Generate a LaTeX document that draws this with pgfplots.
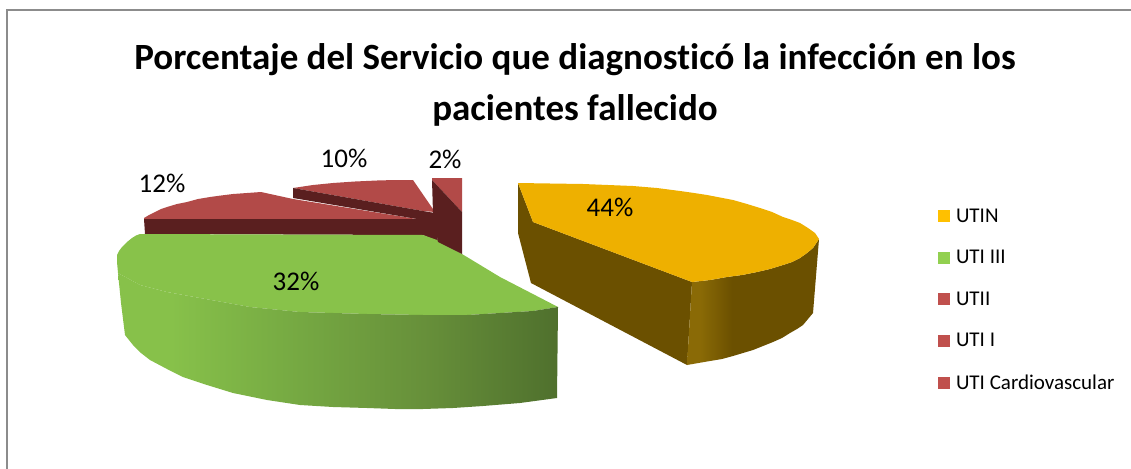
\documentclass[border=0pt]{standalone}
\usepackage{pgfplots}
\pgfplotsset{compat=1.18}
\usepackage{fontspec}
\setmainfont[Ligatures=NoCommon]{Carlito}
\definecolor{yTop}{HTML}{EEB000}
\definecolor{yDark}{HTML}{6B5000}
\definecolor{yMid}{HTML}{8A6A06}
\definecolor{gTop}{HTML}{88C24A}
\definecolor{gA}{HTML}{87C14A}
\definecolor{gB}{HTML}{75A842}
\definecolor{gC}{HTML}{67903A}
\definecolor{gD}{HTML}{4F702D}
\definecolor{rTop}{HTML}{B24A48}
\definecolor{rDark}{HTML}{5A1F1F}
\definecolor{frameC}{HTML}{8C8C8C}
\pgfdeclarehorizontalshading{greenwall}{100bp}{color(0bp)=(gA); color(25bp)=(gA); color(31bp)=(gA); color(45.7bp)=(gB); color(59.7bp)=(gC); color(75bp)=(gD); color(100bp)=(gD)}
\pgfdeclarehorizontalshading{yellowwall}{100bp}{color(0bp)=(yMid); color(25bp)=(yMid); color(30bp)=(yMid); color(42bp)=(yDark); color(100bp)=(yDark)}
\begin{document}
\begin{tikzpicture}
\useasboundingbox (0,0) rectangle (1131pt,468pt);
\begin{axis}[
  width=1131pt, height=468pt, scale only axis,
  xmin=0, xmax=1131, ymin=0, ymax=468, y dir=reverse,
  hide axis, clip=true,
  title={Porcentaje del Servicio que diagnosticó la infección en los\\pacientes fallecido},
  title style={at={(axis cs:575,91)}, anchor=center, align=center,
    font=\fontsize{37}{51}\selectfont\bfseries},
  legend style={at={(axis cs:938,209)}, anchor=north west, draw=none, fill=none,
    font=\fontsize{21}{23}\selectfont, row sep=26.5pt, inner sep=0pt, outer sep=0pt,
    nodes={inner sep=0pt}},
  legend cell align=left,
  legend image code/.code={\fill[#1] (0pt,-6pt) rectangle (12pt,6pt);\path (18pt,0pt);},
  every axis plot/.append style={no markers, draw=none, forget plot},
]
% chart frame
\addplot[draw=frameC, line width=2.5pt, fill=none] coordinates {(7,470) (7,10) (1133,10)};
% UTI II (12%)
\addplot[fill=rTop] coordinates {(144,218) (149,215) (155,212) (161,209) (167,207) (177,204) (187,202) (198,199) (210,197) (221,195.5) (233,194) (247,193) (261,192) (293,199) (423,220) (144,219) (144,218)};
\addplot[fill=rDark] coordinates {(144,219) (423,219) (423,235) (145,234) (144,219)};
% UTI I (10%)
\addplot[fill=rTop] coordinates {(293,188) (313,185) (333,183) (355,181.5) (377,180.5) (395,180) (413,180) (435,212) (423,211) (293,188)};
\addplot[fill=rDark] coordinates {(293,188) (423,211) (435,213) (438,242) (423,235) (423,220) (293,198) (293,188)};
% UTI Cardiovascular (2%)
\addplot[fill=rTop] coordinates {(432,178) (462,178) (462,212) (432,180) (432,178)};
% UTI III (32%)
\addplot[fill=gTop] coordinates {(140,234) (423,235) (437,240) (462,254) (500,277) (558,307) (533,311) (500,313) (467,315) (423,315) (367,314) (300,312) (250,307) (200,298) (167,292) (140,285) (118,273) (117,262) (117,255) (119,251) (122,247) (127,242) (132,238) (136,235.5) (140,234)};
\addplot[shading=greenwall] coordinates {(118,273) (140,285) (167,292) (200,298) (250,307) (300,312) (367,314) (423,315) (467,315) (500,313) (533,311) (558,307) (557,398) (520,403) (483,406) (453,408) (423,409) (395,409) (367,408) (333,407) (300,405) (267,400) (233,393) (207,385) (183,377) (167,369) (150,360) (141,353) (133,345) (125,335) (121,303) (118,273)};
\addplot[fill=rDark] coordinates {(432,180) (462,212) (462,254) (438,242) (433,213) (432,180)};
% UTIN (44%)
\addplot[fill=yDark] coordinates {(518,183) (533,222) (692,282) (687,365) (531,283) (518,233) (518,183)};
\addplot[shading=yellowwall] coordinates {(692,282) (710,280) (727,277) (742,275) (757,272) (770,269) (783,265) (792,262) (800,258) (807,253) (813,248) (819,239) (813,313) (808,319) (803,325) (797,329) (790,333) (782,338) (773,342) (763,346) (753,350) (743,353) (733,356) (722,359) (710,361) (687,365) (692,282)};
\addplot[fill=yTop] coordinates {(518,183) (550,183.5) (583,184) (608,185) (633,186) (657,188) (680,191) (694,193) (707,195) (720,197.5) (733,200) (747,204) (760,208) (772,212) (783,217) (792,220) (800,223) (808,228) (815,233) (819,239) (813,248) (807,253) (800,258) (792,262) (783,265) (770,269) (757,272) (742,275) (727,277) (710,280) (692,282) (533,222) (518,183)};
% data labels
\node[font=\fontsize{27}{29}\selectfont] at (axis cs:610,207) {44\%};
\node[font=\fontsize{27}{29}\selectfont] at (axis cs:296,281) {32\%};
\node[font=\fontsize{27}{29}\selectfont] at (axis cs:162,183) {12\%};
\node[font=\fontsize{27}{29}\selectfont] at (axis cs:344,158) {10\%};
\node[font=\fontsize{27}{29}\selectfont] at (axis cs:445,159) {2\%};
% legend
\addlegendimage{fill={rgb,255:red,255;green,192;blue,0}}
\addlegendentry{UTIN}
\addlegendimage{fill={rgb,255:red,146;green,208;blue,80}}
\addlegendentry{UTI III}
\addlegendimage{fill={rgb,255:red,192;green,80;blue,77}}
\addlegendentry{UTII}
\addlegendimage{fill={rgb,255:red,192;green,80;blue,77}}
\addlegendentry{UTI I}
\addlegendimage{fill={rgb,255:red,192;green,80;blue,77}}
\addlegendentry{UTI Cardiovascular}
\end{axis}
\end{tikzpicture}
\end{document}
